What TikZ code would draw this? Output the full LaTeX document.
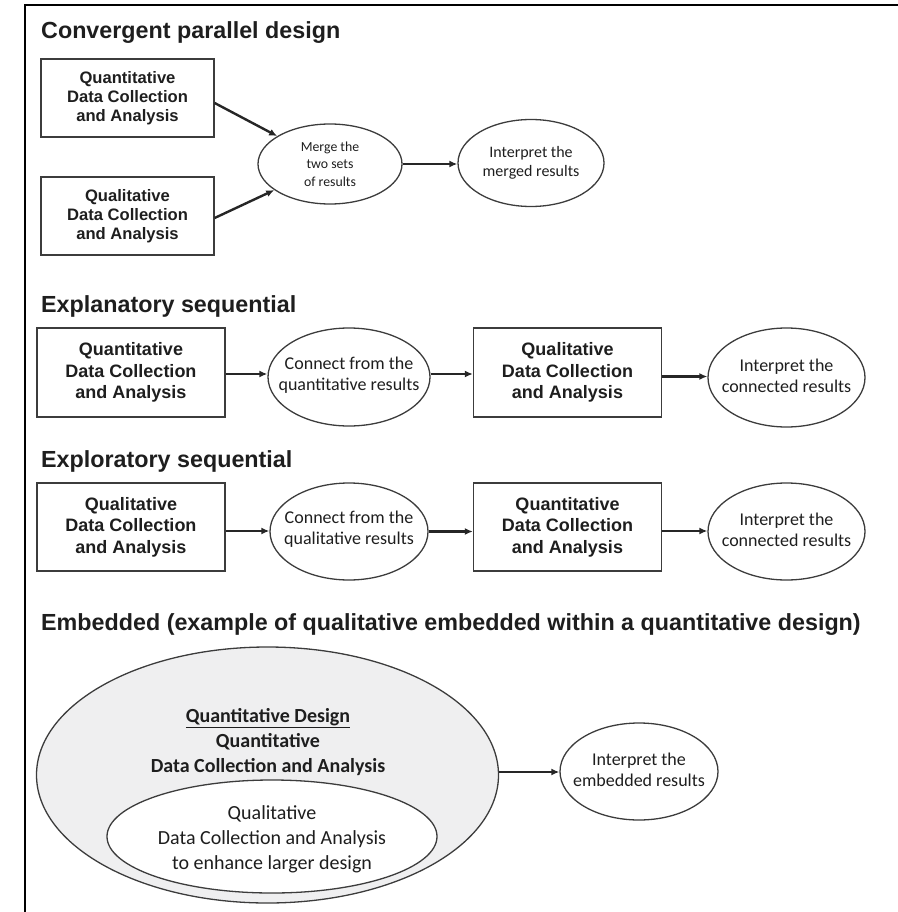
\documentclass[tikz,border=0pt]{standalone}
\usepackage{fontspec}
\setmainfont{Liberation Sans}
\newfontfamily\calib{Carlito}
\usetikzlibrary{shapes.geometric,arrows.meta}
\definecolor{ink}{HTML}{1E1E1E}
\definecolor{edgec}{HTML}{3C3C3C}
\definecolor{shade}{HTML}{EFEFF0}
\begin{document}
\begin{tikzpicture}[x=1pt,y=-1pt,
  title/.style={anchor=base west, inner sep=0, text=ink, font=\fontsize{23.3}{27}\selectfont\bfseries},
  boxa/.style={draw=edgec, line width=1.3pt, minimum width=173pt, minimum height=78pt, align=center, inner sep=0, text=ink, font=\fontsize{16.6}{19}\selectfont\bfseries},
  boxb/.style={boxa, minimum width=188pt, minimum height=89pt, font=\fontsize{18}{21.5}\selectfont\bfseries},
  ell/.style={ellipse, draw=edgec, line width=1.3pt, inner sep=0},
  etext/.style={align=center, inner sep=0, text=ink, font=\calib\fontsize{18}{21}\selectfont},
  arr/.style={draw=black!85, line width=2.4pt, -{Latex[length=8pt,width=7pt]}}
]
\useasboundingbox (0,0) rectangle (897,912);
% frame
\coordinate (fa) at (25,912);
\coordinate (fb) at (25,5);
\coordinate (fc) at (897,5);
\draw[line width=2.5pt, line cap=rect] (fa) -- (fb) -- (fc);

% ---- Convergent parallel design
\node[title] (t1) at (41,39) {Convergent parallel design};
\node[boxa] (b1) at (127.5,98) {Quantitative\\Data Collection\\and Analysis};
\node[boxa] (b2) at (127.5,216) {Qualitative\\Data Collection\\and Analysis};
\node[ell, minimum width=144pt, minimum height=80pt] (m) at (330,164) {};
\node[etext, font=\calib\fontsize{13.8}{17.5}\selectfont] (mt) at (m) {Merge the\\two sets\\of results};
\node[ell, minimum width=146pt, minimum height=87pt] (i1) at (531,163) {};
\node[etext, font=\calib\fontsize{16}{18.5}\selectfont] (i1t) at (i1) {Interpret the\\merged results};
\draw[arr] ([yshift=-5pt]b1.east) -- (m);
\draw[arr] ([yshift=-2pt]b2.east) -- (m);
\draw[arr] (m.east) -- (m.east -| i1.west);

% ---- Explanatory sequential
\node[title] (t2) at (41,312) {Explanatory sequential};
\node[boxb] (b3) at (131,372.5) {Quantitative\\Data Collection\\and Analysis};
\node[ell, minimum width=162pt, minimum height=98pt] (c1) at (349,377) {};
\node[etext] (c1t) at ([yshift=2pt]c1) {Connect from the\\quantitative results};
\node[boxb] (b4) at (567.5,372.5) {Qualitative\\Data Collection\\and Analysis};
\node[ell, minimum width=157pt, minimum height=99pt] (i2) at (786.5,377.5) {};
\node[etext] (i2t) at ([yshift=2pt]i2) {Interpret the\\connected results};
\draw[arr] ([yshift=-1.5pt]b3.east) -- ([yshift=-1.5pt]b3.east -| c1.west);
\draw[arr] ([yshift=3pt]c1.east) -- ([yshift=3pt]c1.east -| b4.west);
\draw[arr] ([yshift=-4pt]b4.east) -- ([yshift=-4pt]b4.east -| i2.west);

% ---- Exploratory sequential
\node[title] (t3) at (41,467) {Exploratory sequential};
\node[boxb, minimum height=88pt] (b5) at (131,527) {Qualitative\\Data Collection\\and Analysis};
\node[ell, minimum width=158pt, minimum height=97pt] (c2) at (349,531.5) {};
\node[etext] (c2t) at ([yshift=2pt]c2) {Connect from the\\qualitative results};
\node[boxb, minimum height=88pt] (b6) at (567.5,527) {Quantitative\\Data Collection\\and Analysis};
\node[ell, minimum width=157pt, minimum height=97pt] (i3) at (786.5,531.5) {};
\node[etext] (i3t) at ([yshift=2pt]i3) {Interpret the\\connected results};
\draw[arr] ([yshift=-4pt]b5.east) -- ([yshift=-4pt]b5.east -| c2.west);
\draw[arr] (c2.east) -- (c2.east -| b6.west);
\draw[arr] ([yshift=-4pt]b6.east) -- ([yshift=-4pt]b6.east -| i3.west);

% ---- Embedded
\node[title] (t4) at (41,630) {Embedded (example of qualitative embedded within a quantitative design)};
\node[ell, fill=shade, minimum width=462pt, minimum height=256pt] (big) at (267.5,775) {};
\node[etext, font=\calib\bfseries\fontsize{20}{25}\selectfont] (bigt) at (268,742) {\underline{Quantitative Design}\\Quantitative\\Data Collection and Analysis};
\node[ell, fill=white, minimum width=330pt, minimum height=113pt] (inner) at (272,836.5) {};
\node[etext, font=\calib\fontsize{20}{25}\selectfont] (innert) at (272,839) {Qualitative\\Data Collection and Analysis\\to enhance larger design};
\node[ell, minimum width=158pt, minimum height=97pt] (i4) at (639,771.5) {};
\node[etext] (i4t) at ([yshift=2pt]i4) {Interpret the\\embedded results};
\draw[arr] ([yshift=3pt]big.east) -- ([yshift=3pt]big.east -| i4.west);
\end{tikzpicture}
\end{document}
